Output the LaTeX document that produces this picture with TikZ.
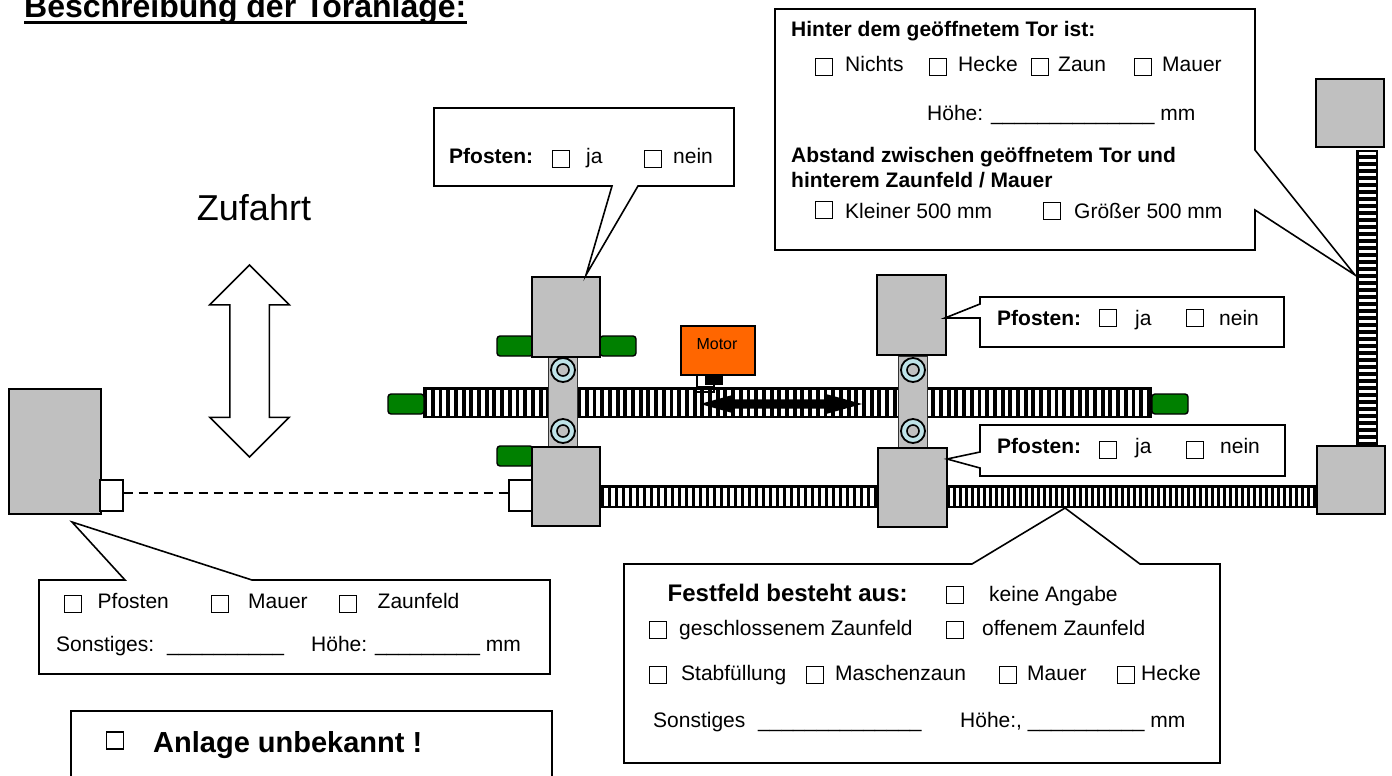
\documentclass[tikz,border=0pt]{standalone}
\usepackage{fontspec}
\setmainfont{Liberation Sans}
\usetikzlibrary{shapes.arrows}
\definecolor{postgray}{HTML}{C0C0C0}
\definecolor{stopgreen}{HTML}{008000}
\definecolor{motororange}{HTML}{FF6600}
\definecolor{rollblue}{HTML}{BFE3E8}
\begin{document}
\begin{tikzpicture}[x=1pt,y=-1pt]
	\tikzset{post/.style = {shape=rectangle,draw,line width=1.8pt,fill=postgray,inner sep=0pt},
		stopper/.style = {shape=rectangle,draw,line width=1.4pt,fill=stopgreen,rounded corners=3pt,minimum width=36pt,minimum height=20pt,inner sep=0pt},
		hinge/.style = {shape=rectangle,draw,line width=1.4pt,fill=white,minimum width=23pt,minimum height=31pt,inner sep=0pt},
		strap/.style = {shape=rectangle,draw=black!80,line width=1.8pt,fill=postgray,minimum width=29pt,minimum height=92pt,inner sep=0pt},
		roll/.style = {shape=circle,draw,line width=1.8pt,fill=rollblue,minimum size=24pt,inner sep=0pt},
		rollin/.style = {shape=circle,draw,line width=1.6pt,fill=postgray,minimum size=12pt,inner sep=0pt},
		callout/.style = {draw,line width=1.6pt,fill=white,line join=miter},
		chk/.style = {shape=rectangle,draw,line width=1.5pt,fill=white,minimum size=17pt,inner sep=0pt},
		lbl/.style = {anchor=base west,inner sep=0pt,font=\fontsize{21}{25}\selectfont},
		lblb/.style = {anchor=base west,inner sep=0pt,font=\fontsize{21}{25}\selectfont\bfseries}}

	\useasboundingbox (0,0) rectangle (1392,776);

	% title and driveway
	\node[anchor=base west,inner sep=0pt,font=\fontsize{32}{38}\selectfont\bfseries] (title) at (24,18) {Beschreibung der Toranlage:};
	\draw[line width=3.6pt] ([yshift=-4.5pt]title.base west) -- ([yshift=-4.5pt]title.base east);
	\node[inner sep=0pt,font=\fontsize{36}{42}\selectfont] (zufahrt) at (254,208) {Zufahrt};
	\node[shape=double arrow,shape border rotate=90,draw,line width=1.5pt,fill=white,inner sep=19pt,minimum width=78pt,minimum height=192pt,double arrow head extend=20pt] (wayarrow) at (249.5,361) {};

	% rails
	\fill[black] (423,387) rectangle (1152,418);
	\foreach \x in {427,434.7,...,1148} \fill[white] (\x,389.5) rectangle +(3.8,26);
	\fill[black] (600,485) rectangle (1317,508);
	\foreach \x in {604,611,...,945} \fill[white] (\x,487.5) rectangle +(3.5,18);
	\foreach \x in {950,956,...,1312} \fill[white] (\x,487.5) rectangle +(3,18);
	\fill[black] (1356,150) rectangle (1378,446);
	\foreach \y in {152,159,...,442} \fill[white] (1358.5,\y) rectangle +(17,3);

	% stoppers
	\node[stopper] (stopa) at (515,346) {};
	\node[stopper] (stopb) at (618,346) {};
	\node[stopper] (stopc) at (515,456) {};
	\node[stopper] (stopd) at (406,404) {};
	\node[stopper] (stope) at (1170,404) {};

	% straps and rollers
	\node[strap] (strapl) at (563,402) {};
	\node[strap] (strapr) at (913,402) {};
	\node[roll] (rolla) at (563,370) {};
	\node[rollin] (rollaa) at (563,370) {};
	\node[roll] (rollb) at (563,431) {};
	\node[rollin] (rollbb) at (563,431) {};
	\node[roll] (rollc) at (913,370) {};
	\node[rollin] (rollcc) at (913,370) {};
	\node[roll] (rolld) at (913,431) {};
	\node[rollin] (rolldd) at (913,431) {};

	% posts
	\node[post,minimum width=92pt,minimum height=125pt] (postfar) at (55,451.5) {};
	\node[post,minimum width=68pt,minimum height=80pt] (posttl) at (566,317) {};
	\node[post,minimum width=68pt,minimum height=79pt] (postbl) at (566,486.5) {};
	\node[post,minimum width=69pt,minimum height=80pt] (posttr) at (911.5,315) {};
	\node[post,minimum width=69pt,minimum height=79pt] (postbr) at (912.5,487.5) {};
	\node[post,minimum width=68pt,minimum height=68pt] (postup) at (1350,113) {};
	\node[post,minimum width=68pt,minimum height=68pt] (postlow) at (1351,480) {};

	% latch
	\node[hinge] (hingel) at (111.5,495.5) {};
	\node[hinge] (hinger) at (520.5,495.5) {};
	\draw[dashed,line width=1.2pt,dash pattern=on 9pt off 6pt] ([yshift=2.5pt]hingel.east) -- ([yshift=2.5pt]hinger.west);

	% motor
	\draw[line width=1.2pt] (697,375) -- (697,387) -- (714,387);
	\draw[line width=1.2pt] (697,392) -- (714,392) -- (714,385);
	\node[shape=rectangle,fill=black,minimum width=18pt,minimum height=10pt,inner sep=0pt] (motorfoot) at (714,380) {};
	\node[shape=rectangle,draw,line width=1.4pt,fill=motororange,minimum width=74pt,minimum height=49pt,inner sep=0pt] (motor) at (718,350.5) {};
	\node[inner sep=0pt,font=\fontsize{16}{19}\selectfont] (motortext) at (717,344) {Motor};
	\node[shape=double arrow,fill=black,inner sep=4.5pt,minimum width=19pt,minimum height=162pt,double arrow head extend=5pt,double arrow tip angle=31] (gatearrow) at (781,404) {};

	% callouts
	\draw[callout] (775,9) -- (1255,9) -- (1255,150) -- (1355,275) -- (1255,210) -- (1255,250) -- (775,250) -- cycle;
	\draw[callout] (434,108) -- (734,108) -- (734,186) -- (638,186) -- (586,275) -- (612,186) -- (434,186) -- cycle;
	\draw[callout] (980,297) -- (1284,297) -- (1284,347) -- (980,347) -- (980,318) -- (945,318) -- (980,304) -- cycle;
	\draw[callout] (980,425) -- (1285,425) -- (1285,476) -- (980,476) -- (980,468) -- (947,459) -- (980,452) -- cycle;
	\draw[callout] (39,580) -- (125,580) -- (72,522) -- (252,580) -- (550,580) -- (550,674) -- (39,674) -- cycle;
	\draw[callout] (624,564) -- (972,564) -- (1065,508) -- (1140,564) -- (1220,564) -- (1220,763) -- (624,763) -- cycle;
	\draw[line width=1.6pt] (71,776) -- (71,711) -- (552,711) -- (552,776);

	% texts upper right
	\node[lblb] (behind) at (791,37) {Hinter dem geöffnetem Tor ist:};
	\node[chk] (cnichts) at (824,67) {};
	\node[lbl] (tnichts) at (845,71) {Nichts};
	\node[chk] (checke) at (938,67) {};
	\node[lbl] (thecke) at (958,71) {Hecke};
	\node[chk] (czaun) at (1040,67) {};
	\node[lbl] (tzaun) at (1058,71) {Zaun};
	\node[chk] (cmauer) at (1143,67) {};
	\node[lbl] (tmauer) at (1162,71) {Mauer};
	\node[lbl] (thoehe) at (927,120) {Höhe: \_\_\_\_\_\_\_\_\_\_\_\_\_\_ mm};
	\node[lblb] (tabst) at (791,162) {Abstand zwischen geöffnetem Tor und};
	\node[lblb] (tabstb) at (791,187) {hinterem Zaunfeld / Mauer};
	\node[chk] (cklein) at (824,210) {};
	\node[lbl] (tklein) at (845,218) {Kleiner 500 mm};
	\node[chk] (cgross) at (1052,211) {};
	\node[lbl] (tgross) at (1074,218) {Größer 500 mm};

	% post questions
	\node[lblb] (qa) at (449,163) {Pfosten:};
	\node[chk] (qaj) at (561,159) {};
	\node[lbl] (qajt) at (586,163) {ja};
	\node[chk] (qan) at (653,159) {};
	\node[lbl] (qant) at (673,163) {nein};
	\node[lblb] (qb) at (997,325) {Pfosten:};
	\node[chk] (qbj) at (1108,318) {};
	\node[lbl] (qbjt) at (1135,325) {ja};
	\node[chk] (qbn) at (1195,318) {};
	\node[lbl] (qbnt) at (1219,325) {nein};
	\node[lblb] (qc) at (997,453) {Pfosten:};
	\node[chk] (qcj) at (1108,450) {};
	\node[lbl] (qcjt) at (1135,453) {ja};
	\node[chk] (qcn) at (1195,450) {};
	\node[lbl] (qcnt) at (1220,453) {nein};

	% texts lower left
	\node[chk] (cpf) at (73,604) {};
	\node[lbl] (tpf) at (97.5,608) {Pfosten};
	\node[chk] (cma) at (220,604) {};
	\node[lbl] (tma) at (248,608) {Mauer};
	\node[chk] (cza) at (348,604) {};
	\node[lbl] (tza) at (377.5,608) {Zaunfeld};
	\node[lbl] (tson) at (56,651) {Sonstiges:};
	\node[lbl] (tsonl) at (167,651) {\_\_\_\_\_\_\_\_\_\_};
	\node[lbl] (thoe) at (311,651) {Höhe: \_\_\_\_\_\_\_\_\_ mm};
	\node[chk] (cunb) at (115,740.5) {};
	\node[anchor=base west,inner sep=0pt,font=\fontsize{29}{34}\selectfont\bfseries] (tunb) at (153,752) {Anlage unbekannt !};

	% texts lower right
	\node[anchor=base west,inner sep=0pt,font=\fontsize{24}{28}\selectfont\bfseries] (tfest) at (667.5,601) {Festfeld besteht aus:};
	\node[chk] (ckeine) at (955,595) {};
	\node[lbl] (tkeine) at (989,601) {keine Angabe};
	\node[chk] (cges) at (658,630) {};
	\node[lbl] (tges) at (679,635) {geschlossenem Zaunfeld};
	\node[chk] (coff) at (955,630) {};
	\node[lbl] (toff) at (982,635) {offenem Zaunfeld};
	\node[chk] (cstab) at (658,675) {};
	\node[lbl] (tstab) at (681,680) {Stabfüllung};
	\node[chk] (cmasch) at (815,675) {};
	\node[lbl] (tmasch) at (835,680) {Maschenzaun};
	\node[chk] (cmau) at (1008,675) {};
	\node[lbl] (tmau) at (1027,680) {Mauer};
	\node[chk] (chec) at (1126,675) {};
	\node[lbl] (thec) at (1141,680) {Hecke};
	\node[lbl] (tsons) at (653,727) {Sonstiges};
	\node[lbl] (tsonsl) at (758,727) {\_\_\_\_\_\_\_\_\_\_\_\_\_\_};
	\node[lbl] (thoeh) at (960,727) {Höhe:, \_\_\_\_\_\_\_\_\_\_ mm};

\end{tikzpicture}
\end{document}
